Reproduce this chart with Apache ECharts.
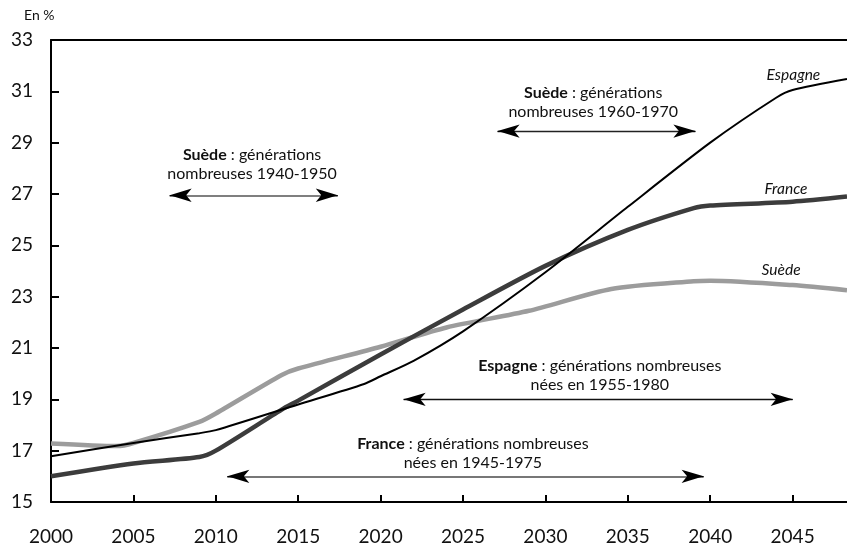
<!DOCTYPE html>
<html>
<head>
<meta charset="utf-8">
<script src="https://cdn.jsdelivr.net/npm/echarts@6/dist/echarts.min.js"></script>
<style>
html, body { margin: 0; padding: 0; background: #fff; }
#chart { width: 847px; height: 548px; }
</style>
</head>
<body>
<div id="chart"></div>
<script>
// part des 60 ans et plus (en %)
var franceData = [
    [2000, 16.0], [2005, 16.5], [2009, 16.75], [2010, 17.0], [2014, 18.6], [2015, 18.95],
    [2020, 20.75], [2025, 22.5], [2030, 24.2], [2035, 25.6], [2039, 26.45], [2040, 26.55],
    [2045, 26.7], [2048.3, 26.9]
];
var espagneData = [
    [2000, 16.78], [2005, 17.3], [2009, 17.68], [2010, 17.8], [2015, 18.8], [2019, 19.6],
    [2020, 19.9], [2022, 20.5], [2025, 21.65], [2030, 23.95], [2035, 26.5], [2040, 29.0],
    [2044, 30.75], [2045, 31.05], [2048.3, 31.48]
];
var suedeData = [
    [2000, 17.28], [2004, 17.18], [2005, 17.3], [2009, 18.12], [2010, 18.45], [2014, 19.95],
    [2015, 20.2], [2020, 21.05], [2024, 21.8], [2029, 22.45], [2034, 23.3], [2039, 23.6],
    [2040, 23.62], [2045, 23.45], [2048.3, 23.25]
];

// flèches : [début, fin, niveau]
var arrowSuede4050 = [2007.2, 2017.4, 26.95];
var arrowSuede6070 = [2027.1, 2039.1, 29.45];
var arrowEspagne = [2021.4, 2045.0, 19.0];
var arrowFrance = [2010.7, 2039.6, 16.0];

// textes : [x, y, libellé]
var noteSuede4050 = [2012.2, 28.15, '{b|Suède} : générations\nnombreuses 1940-1950'];
var noteSuede6070 = [2032.9, 30.58, '{b|Suède} : générations\nnombreuses 1960-1970'];
var noteEspagne = [2033.3, 19.94, '{b|Espagne} : générations nombreuses\nnées en 1955-1980'];
var noteFrance = [2025.6, 16.9, '{b|France} : générations nombreuses\nnées en 1945-1975'];

var seriesNames = [
    [2045.05, 31.64, 'Espagne'],
    [2044.6, 27.19, 'France'],
    [2044.3, 24.03, 'Suède']
];

var yearTicks = [2000, 2005, 2010, 2015, 2020, 2025, 2030, 2035, 2040, 2045];

var FONT = 'Lato, "Open Sans", sans-serif';
var HEAD = 1; // longueur (en années) du segment noir sous chaque pointe

function arrowItems(a, color, width) {
    var y = a[2];
    return [
        [
            { coord: [a[0], y], symbol: 'none', lineStyle: { color: color, width: width, type: 'solid' } },
            { coord: [a[1], y], symbol: 'none' }
        ],
        [
            { coord: [a[0] + HEAD, y], symbol: 'none', lineStyle: { color: '#000', width: 1, type: 'solid' } },
            { coord: [a[0], y], symbol: 'arrow' }
        ],
        [
            { coord: [a[1] - HEAD, y], symbol: 'none', lineStyle: { color: '#000', width: 1, type: 'solid' } },
            { coord: [a[1], y], symbol: 'arrow' }
        ]
    ];
}

function noteItem(n) {
    return {
        coord: [n[0], n[1]],
        label: {
            show: true,
            position: 'inside',
            formatter: n[2],
            color: '#111',
            fontFamily: FONT,
            fontSize: 16,
            lineHeight: 19,
            align: 'center',
            rich: {
                b: { fontWeight: 'bold', fontSize: 16, fontFamily: FONT, color: '#111', lineHeight: 19 }
            }
        }
    };
}

function nameItem(n) {
    return {
        coord: [n[0], n[1]],
        label: {
            show: true,
            position: 'inside',
            formatter: n[2],
            color: '#111',
            fontFamily: FONT,
            fontStyle: 'italic',
            fontSize: 15.5
        }
    };
}

var chart = echarts.init(document.getElementById('chart'), null, { renderer: 'canvas' });

var arrowData = [].concat(
    arrowItems(arrowSuede4050, '#555', 1.5),
    arrowItems(arrowSuede6070, '#222', 1.3),
    arrowItems(arrowEspagne, '#111', 1.3),
    arrowItems(arrowFrance, '#777', 2.2)
);

var option = {
    animation: false,
    backgroundColor: '#fff',
    grid: { left: 51, right: 0, top: 40, bottom: 46, containLabel: false },
    graphic: [{
        type: 'text',
        left: 24, top: 8,
        style: { text: 'En %', fontSize: 14, fontFamily: FONT, fill: '#111' }
    }],
    xAxis: [{
        type: 'value',
        min: 2000,
        max: 2048.3,
        interval: 5,
        axisLine: { show: true, lineStyle: { color: '#000', width: 2 } },
        axisTick: { show: true, inside: true, length: 7, lineStyle: { color: '#000', width: 2 } },
        axisLabel: {
            margin: 25,
            fontSize: 19,
            fontFamily: FONT,
            color: '#111',
            showMaxLabel: false,
            formatter: function (v) { return yearTicks.indexOf(v) >= 0 ? String(v) : ''; }
        },
        splitLine: { show: false }
    }, {
        type: 'value',
        position: 'top',
        min: 2000,
        max: 2048.3,
        axisLine: { show: true, lineStyle: { color: '#000', width: 2 } },
        axisTick: { show: false },
        axisLabel: { show: false },
        splitLine: { show: false }
    }],
    yAxis: {
        type: 'value',
        min: 15,
        max: 33,
        interval: 2,
        axisLine: { show: true, lineStyle: { color: '#000', width: 2 } },
        axisTick: { show: true, inside: true, length: 8, lineStyle: { color: '#000', width: 2 } },
        axisLabel: { margin: 18, fontSize: 19, fontFamily: FONT, color: '#111' },
        splitLine: { show: false }
    },
    series: [{
        name: 'Suède',
        type: 'line',
        data: suedeData,
        smooth: 0.25,
        showSymbol: false,
        lineStyle: { color: '#9c9c9c', width: 4.5 },
        z: 2
    }, {
        name: 'France',
        type: 'line',
        data: franceData,
        smooth: 0.25,
        showSymbol: false,
        lineStyle: { color: '#3c3c3c', width: 4.5 },
        z: 3,
        markLine: {
            silent: true,
            symbolSize: [10, 22],
            label: { show: false },
            data: arrowData
        },
        markPoint: {
            silent: true,
            symbol: 'circle',
            symbolSize: 0,
            data: [
                noteItem(noteSuede4050),
                noteItem(noteSuede6070),
                noteItem(noteEspagne),
                noteItem(noteFrance),
                nameItem(seriesNames[0]),
                nameItem(seriesNames[1]),
                nameItem(seriesNames[2])
            ]
        }
    }, {
        name: 'Espagne',
        type: 'line',
        data: espagneData,
        smooth: 0.25,
        showSymbol: false,
        lineStyle: { color: '#000', width: 2 },
        z: 4
    }]
};

chart.setOption(option);
</script>
</body>
</html>
